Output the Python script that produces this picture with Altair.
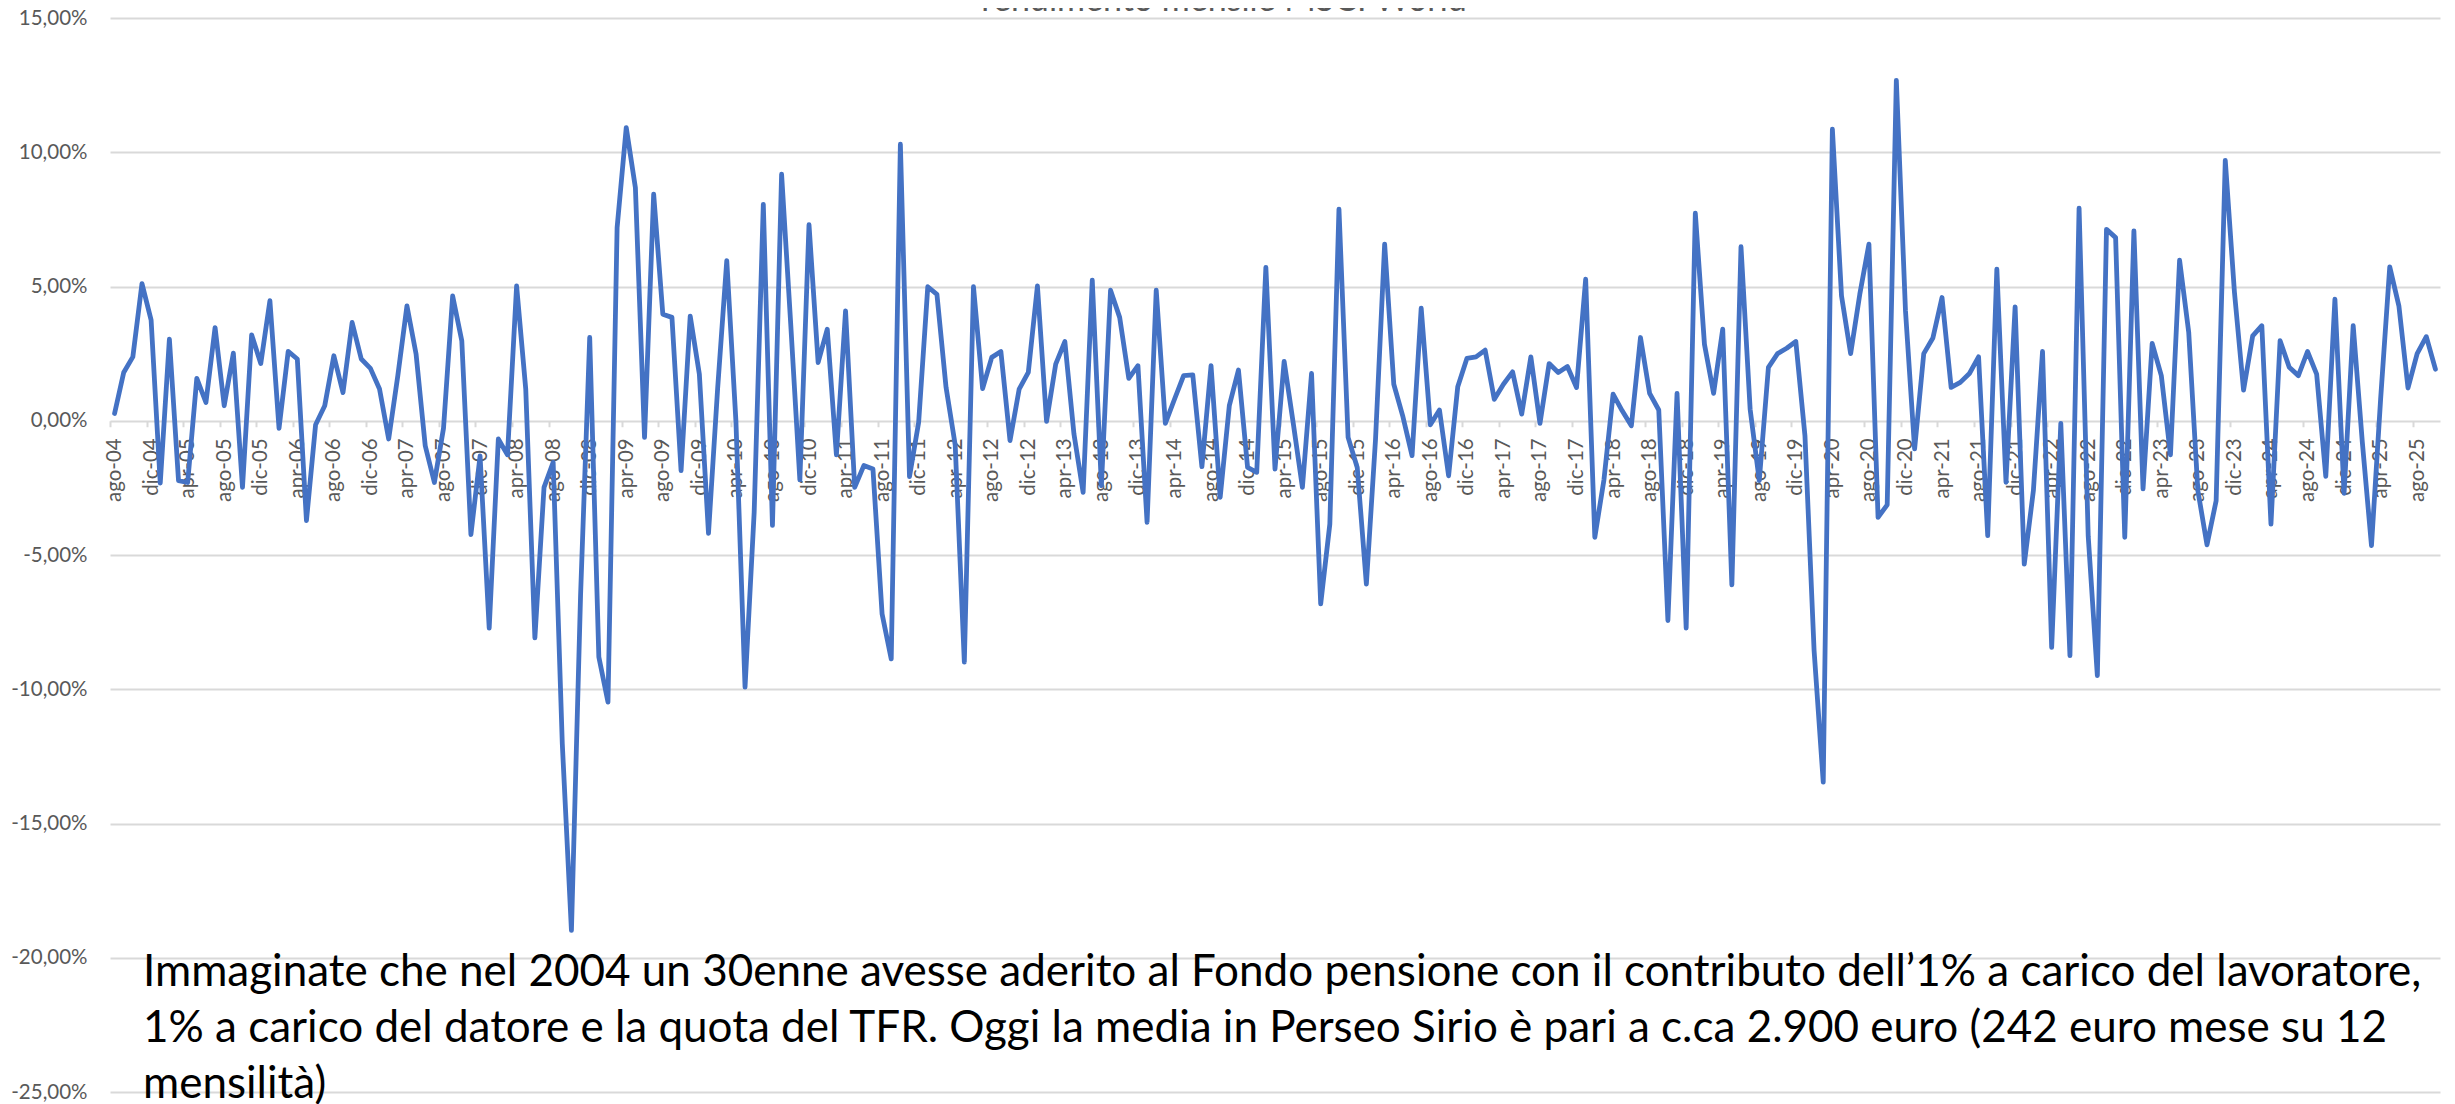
import altair as alt
import pandas as pd

title_text = "rendimento mensile MSCI World"
months_it = ["gen", "feb", "mar", "apr", "mag", "giu", "lug", "ago", "set", "ott", "nov", "dic"]
start_year, start_month = 2004, 8

# monthly returns (%) Aug 2004 -> Oct 2025
returns = [
    0.27, 1.8, 2.38, 5.11, 3.75, -2.32, 3.04, -2.23, -2.3, 1.58,
    0.68, 3.47, 0.56, 2.52, -2.48, 3.2, 2.13, 4.47, -0.28, 2.58,
    2.3, -3.72, -0.15, 0.56, 2.42, 1.05, 3.66, 2.3, 1.95, 1.18,
    -0.68, 1.68, 4.28, 2.48, -0.93, -2.3, -0.28, 4.65, 2.98, -4.24,
    -1.31, -7.72, -0.68, -1.27, 5.02, 1.18, -8.09, -2.48, -1.55, -12.03,
    -18.98, -6.5, 3.1, -8.8, -10.48, 7.2, 10.92, 8.68, -0.62, 8.44,
    3.97, 3.85, -1.86, 3.9, 1.74, -4.19, 1.2, 5.96, 0.0, -9.92,
    -3.4, 8.06, -3.9, 9.18, 3.6, -2.2, 7.3, 2.17, 3.41, -1.27,
    4.09, -2.48, -1.67, -1.8, -7.2, -8.87, 10.3, -2.08, -0.06, 4.99,
    4.71, 1.24, -0.9, -8.99, 4.99, 1.2, 2.36, 2.58, -0.74, 1.18,
    1.8, 5.02, -0.02, 2.11, 2.95, -0.5, -2.67, 5.24, -2.42, 4.86,
    3.85, 1.58, 2.05, -3.78, 4.86, -0.1, 0.8, 1.68, 1.71, -1.71,
    2.05, -2.85, 0.56, 1.89, -1.74, -1.92, 5.71, -1.8, 2.21, -0.1,
    -2.48, 1.76, -6.82, -3.85, 7.88, -0.62, -1.74, -6.08, -0.7, 6.58,
    1.36, 0.15, -1.3, 4.19, -0.15, 0.4, -2.05, 1.27, 2.32, 2.38,
    2.63, 0.8, 1.36, 1.82, 0.25, 2.38, -0.1, 2.13, 1.8, 2.02,
    1.24, 5.27, -4.34, -2.2, 0.99, 0.37, -0.19, 3.1, 1.02, 0.4,
    -7.44, 1.02, -7.72, 7.73, 2.85, 1.02, 3.41, -6.11, 6.48, 0.43,
    -2.23, 1.99, 2.5, 2.7, 2.95, -0.56, -8.56, -13.46, 10.86, 4.65,
    2.5, 4.71, 6.58, -3.6, -3.13, 12.68, 4.1, -1.05, 2.5, 3.08,
    4.59, 1.24, 1.43, 1.76, 2.38, -4.28, 5.65, -2.29, 4.24, -5.34,
    -2.6, 2.58, -8.44, -0.1, -8.75, 7.92, -4.3, -9.49, 7.13, 6.82,
    -4.34, 7.07, -2.54, 2.88, 1.68, -1.27, 5.98, 3.29, -2.6, -4.62,
    -2.98, 9.7, 4.8, 1.14, 3.16, 3.54, -3.85, 2.98, 1.99, 1.68,
    2.58, 1.74, -2.07, 4.53, -2.7, 3.54, -0.8, -4.65, 0.8, 5.73,
    4.28, 1.22, 2.5, 3.13, 1.92,
]
n = len(returns)

month_labels = []
for i in range(n):
    k = start_month - 1 + i
    month_labels.append(f"{months_it[k % 12]}-{(start_year + k // 12) % 100:02d}")

tick_idx = list(range(0, n, 4))
tick_labels = [month_labels[i] for i in tick_idx]
y_ticks = [-25, -20, -15, -10, -5, 0, 5, 10, 15]

note_lines = [
    "Immaginate che nel 2004 un 30enne avesse aderito al Fondo pensione con il contributo dell’1% a carico del lavoratore,",
    "1% a carico del datore e la quota del TFR. Oggi la media in Perseo Sirio è pari a c.ca 2.900 euro (242 euro mese su 12",
    "mensilità)",
]

df = pd.DataFrame({"idx": list(range(n)), "ret": returns, "mese": month_labels})

W, H = 2330, 1074
band = W / n
y_min, y_max = -25, 15
zero_px = H * y_max / (y_max - y_min)

FONT = "Lato, Open Sans, DejaVu Sans, sans-serif"
GREY = "#595959"
GRID = "#d9d9d9"

label_expr = "[" + ",".join(f"'{s}'" for s in tick_labels) + "][round(datum.value / 4)]"
y_label_expr = "(datum.value < 0 ? '-' : '') + replace(format(abs(datum.value), '.2f'), '.', ',') + '%'"

x_enc = alt.X(
    "idx:Q",
    scale=alt.Scale(domain=[-0.5, n - 0.5], nice=False, zero=False),
    axis=alt.Axis(
        values=tick_idx, labelExpr=label_expr, labelAngle=-90,
        offset=-(H - zero_px), tickOffset=-band / 2, labelOffset=band / 2,
        grid=False, domain=False, ticks=True, tickColor=GRID, tickWidth=2, tickSize=6,
        labelPadding=11, labelFont=FONT, labelFontSize=20.5, labelColor=GREY,
        labelOverlap=False, labelBound=False, labelFlush=False, title=None,
    ),
)
y_enc = alt.Y(
    "ret:Q",
    scale=alt.Scale(domain=[y_min, y_max], nice=False, zero=False),
    axis=alt.Axis(
        values=y_ticks, labelExpr=y_label_expr, grid=True, gridColor=GRID, gridWidth=2,
        domain=False, ticks=False, labelPadding=23, labelFont=FONT, labelFontSize=20.5,
        labelColor=GREY, title=None,
    ),
)

line = alt.Chart(df).mark_line(
    color="#4472C4", strokeWidth=4.8, strokeJoin="round", strokeCap="round"
).encode(x=x_enc, y=y_enc)

note = alt.Chart(pd.DataFrame({"t": ["\n".join(note_lines)]})).mark_text(
    align="left", baseline="alphabetic", font=FONT, fontSize=44, color="#000000",
    lineBreak="\n", lineHeight=56,
).encode(text="t:N", x=alt.value(33), y=alt.value(968))

title = alt.Chart(pd.DataFrame({"t": [title_text]})).mark_text(
    align="center", baseline="alphabetic", font=FONT, fontSize=34, color=GREY,
).encode(text="t:N", x=alt.value(1114), y=alt.value(-7))

chart = alt.layer(line, note, title).properties(
    width=W, height=H,
    autosize=alt.AutoSizeParams(type="none"),
    padding={"left": 102, "top": 10, "right": 5, "bottom": 12},
).configure_view(stroke=None)

chart.save("out.html", embed_options={"renderer": "svg", "actions": False})
